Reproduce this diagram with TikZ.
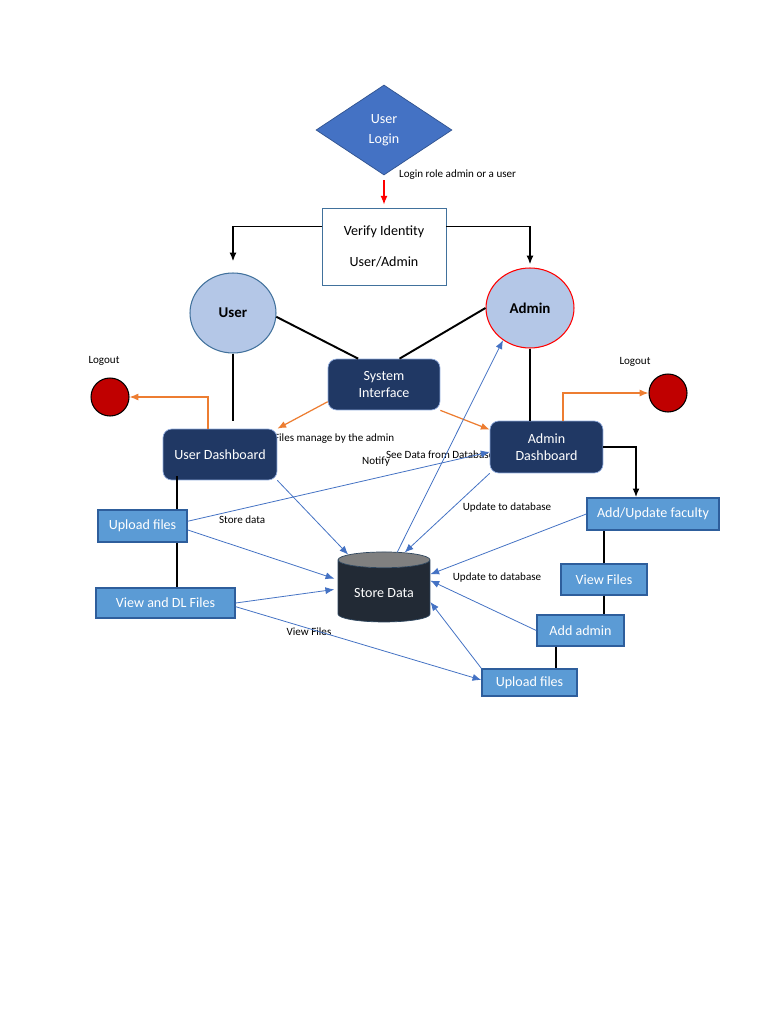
\documentclass[tikz,border=0pt]{standalone}
\usepackage{fontspec}
\setmainfont{Carlito}
\usepackage{tikz}
\usetikzlibrary{shapes.geometric,arrows.meta}

\definecolor{navy}{HTML}{203864}
\definecolor{navyedge}{HTML}{8FAADC}
\definecolor{loginblue}{HTML}{4472C4}
\definecolor{loginedge}{HTML}{2F528F}
\definecolor{paleblue}{HTML}{B4C7E7}
\definecolor{paleedge}{HTML}{41719C}
\definecolor{flatfill}{HTML}{5B9BD5}
\definecolor{flatedge}{HTML}{2E5E9C}
\definecolor{linkblue}{HTML}{4472C4}
\definecolor{exitorange}{HTML}{ED7D31}
\definecolor{exitred}{HTML}{C00000}
\definecolor{dbbody}{HTML}{222A35}
\definecolor{dbtop}{HTML}{808080}

\tikzset{
  boxfont/.style={font=\fontsize{8}{9.5}\selectfont},
  tag/.style={font=\fontsize{6.3}{7}\selectfont, inner sep=1pt},
  roundbox/.style={rectangle, rounded corners=5pt, draw=navyedge, fill=navy, text=white, align=center, boxfont},
  flatbox/.style={rectangle, draw=flatedge, line width=0.8pt, fill=flatfill, text=white, boxfont},
  rolecircle/.style={ellipse, fill=paleblue, line width=0.6pt, font=\fontsize{8.5}{10}\selectfont\bfseries},
  exitdot/.style={circle, draw=black, line width=0.6pt, fill=exitred, minimum size=0.76cm, inner sep=0pt},
  link/.style={line width=1.1pt},
  flow/.style={draw=linkblue, line width=0.45pt, -{Latex[length=5pt,width=4pt]}},
  exitflow/.style={draw=exitorange, line width=0.7pt, -{Latex[length=5pt,width=4pt]}}
}

\begin{document}
\begin{tikzpicture}[x=0.02cm, y=-0.02cm]
\useasboundingbox[fill=white] (0,0) rectangle (768,1024);

% labels first, so boxes cover them
\node (lblrole) at (397,175) [tag, anchor=west] {Login role admin or a user};
\node (lbllogoutL) at (104,361) [tag] {Logout};
\node (lbllogoutR) at (635,362) [tag] {Logout};
\node (lblfiles) at (272,439) [tag, anchor=west] {Files manage by the admin};
\node (lblsee) at (384,455) [tag, anchor=west] {See Data from Database};
\node (lblnotify) at (376,462) [tag] {Notify};
\node (lblstore) at (217,520) [tag, anchor=west] {Store data};
\node (lblupdA) at (507,508) [tag] {Update to database};
\node (lblupdB) at (497,578) [tag] {Update to database};
\node (lblview) at (309,632) [tag] {View Files};

% top
\node (login) at (384,130) [diamond, aspect=1.5, minimum width=2.72cm, minimum height=1.8cm, inner sep=0pt,
      fill=loginblue, draw=loginedge, text=white, align=center, boxfont] {User\\[2pt]Login};
\node (verify) at (384,246.5) [rectangle, draw=paleedge, fill=white, minimum width=2.48cm, minimum height=1.54cm,
      align=center, boxfont] {Verify Identity\\[8pt]User/Admin};

\node (user) at (233,313) [rolecircle, draw=paleedge, minimum width=1.72cm, minimum height=1.6cm] {User};
\node (admin) at (530,308) [rolecircle, draw=red, minimum width=1.76cm, minimum height=1.6cm] {Admin};

\node (sysint) at (384,384.5) [roundbox, minimum width=2.24cm, minimum height=1.02cm] {System\\Interface};
\node (userdash) at (220,454.5) [roundbox, minimum width=2.28cm, minimum height=1.02cm] {User Dashboard};
\node (admindash) at (546.5,447) [roundbox, minimum width=2.26cm, minimum height=1.04cm] {Admin\\Dashboard};

\node (logoutL) at (110,397) [exitdot] {};
\node (logoutR) at (668,393) [exitdot] {};

\node (uploadL) at (142.5,526) [flatbox, minimum width=1.78cm, minimum height=0.64cm] {Upload files};
\node (viewdl) at (165.5,603) [flatbox, minimum width=2.78cm, minimum height=0.6cm] {View and DL Files};

\node (faculty) at (653,514) [flatbox, minimum width=2.64cm, minimum height=0.64cm] {Add/Update faculty};
\node (viewfiles) at (604,579.5) [flatbox, minimum width=1.72cm, minimum height=0.62cm] {View Files};
\node (addadmin) at (580.5,630.5) [flatbox, minimum width=1.74cm, minimum height=0.62cm] {Add admin};
\node (uploadR) at (529.5,682.5) [flatbox, minimum width=1.9cm, minimum height=0.54cm] {Upload files};

\node (store) at (384,593) [cylinder, shape border rotate=90, aspect=0.22, minimum width=1.84cm, minimum height=1.4cm,
      draw=dbbody!60!paleedge, cylinder uses custom fill, cylinder body fill=dbbody, cylinder end fill=dbtop,
      text=white, boxfont] {Store Data};

% login to roles
\draw[red, line width=0.8pt, -{Latex[length=5pt,width=4pt]}, shorten <=0.1cm, shorten >=0.06cm] (login.south) -- (verify.north);
\draw[link, -{Latex[length=5pt,width=4pt]}] ([yshift=0.4cm]verify.west) -| ([yshift=0.22cm]user.north);
\draw[link, -{Latex[length=5pt,width=4pt]}] ([yshift=0.4cm]verify.east) -| ([yshift=0.06cm]admin.north);

\draw[link] (user.-5) -- (sysint.135);
\draw[link] (admin.west) -- (sysint.59);
\draw[link] (user.south) -- (user.south |- admindash.north);
\draw[link] (admin.south) -- (admin.south |- admindash.north);

% logout
\draw[exitflow] ([xshift=-0.24cm]userdash.north) |- (logoutL.east);
\draw[exitflow] ([xshift=0.33cm]admindash.north) |- (logoutR.west);
\draw[exitflow] (sysint.197) -- (userdash.north east);
\draw[exitflow] (sysint.south east) -- (admindash.163);

% admin side
\draw[link, -{Latex[length=5pt,width=4pt]}] (admindash.east) -| ([xshift=-0.34cm]faculty.north);
\draw[link] (viewfiles.north) -- (viewfiles.north |- faculty.south);
\draw[link] (viewfiles.south) -- (viewfiles.south |- addadmin.north);
\draw[link] ([xshift=-0.49cm]addadmin.south) -- ([xshift=-0.49cm]addadmin.south |- uploadR.north);

% user side
\draw[link] ([xshift=0.69cm]uploadL.north) -- ([xshift=0.69cm,yshift=0.08cm]uploadL.north |- userdash.south);
\draw[link] ([xshift=0.69cm]uploadL.south) -- ([xshift=0.69cm]uploadL.south |- viewdl.north);

% data flows
\draw[flow] (userdash.south east) -- (store.133);
\draw[flow] (uploadL.6) -- (admindash.185);
\draw[flow, shorten >=2pt] (uploadL.-5) -- (store.164);
\draw[flow, shorten >=2pt] (viewdl.east) -- (store.175);
\draw[flow] (viewdl.-3) -- (uploadR.177);
\draw[flow] (store.72) -- (admin.230);
\draw[flow] (admindash.south west) -- (store.63);
\draw[flow] (faculty.west) -- (store.22);
\draw[flow] (addadmin.west) -- (store.15);
\draw[flow] (uploadR.north west) -- (store.-11);
\end{tikzpicture}
\end{document}
